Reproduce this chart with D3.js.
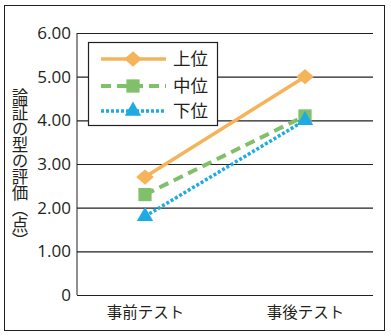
<!DOCTYPE html>
<html><head><meta charset="utf-8">
<script src="https://cdn.jsdelivr.net/npm/d3@7"></script>
<style>body{margin:0;background:#fff}svg{display:block}text{font-family:"Noto Sans CJK JP","Noto Sans",sans-serif;fill:#231f20}</style>
</head><body><svg id="c" width="391" height="336"></svg>
<script>
const categories = ["事前テスト", "事後テスト"];
const seriesNames = ["上位", "中位", "下位"];
const upper = [2.7, 5.0];
const middle = [2.3, 4.1];
const lower = [1.8, 4.0];
const yTicks = [0, 1, 2, 3, 4, 5, 6];
const yTitle = "論証の型の評価（点）";

const series = [
  {name: seriesNames[0], values: upper, color: "#F5B35A", dash: null, width: 3.5, symbol: d3.symbolDiamond2, size: 150, sx: 1.15},
  {name: seriesNames[1], values: middle, color: "#80C06B", dash: "10,6", width: 4, symbol: d3.symbolSquare, size: 175, sx: 1},
  {name: seriesNames[2], values: lower, color: "#1EAAE2", dash: "3,2", width: 3.5, symbol: d3.symbolTriangle, size: 115, sx: 1}
];

const svg = d3.select("#c");
svg.append("rect").attr("x", 4.5).attr("y", 5.5).attr("width", 380).attr("height", 325)
  .attr("fill", "none").attr("stroke", "#231f20").attr("stroke-width", 1);

const L = 77, R = 373, T = 33, B = 295;
const x = d3.scalePoint().domain(categories).range([L, R]).padding(0.425);
const y = d3.scaleLinear().domain([0, 6]).range([B, T]);

// grid + y axis
const yAxis = d3.axisLeft(y).tickValues(yTicks).tickSize(-(R - L)).tickPadding(6)
  .tickFormat(d => d === 0 ? "0" : d3.format(".2f")(d));
const ga = svg.append("g").attr("transform", `translate(${L},0)`).call(yAxis);
ga.select(".domain").attr("stroke", "#231f20").attr("d", `M0,${T}V${B}`);
ga.selectAll(".tick line").attr("stroke", "#231f20").attr("stroke-width", 1.2);
ga.selectAll(".tick text").attr("font-size", 17).attr("fill", "#231f20")
  .style("font-family", "'Open Sans','Noto Sans',sans-serif");

// x axis labels
const xAxis = d3.axisBottom(x).tickSize(0).tickPadding(12);
const gx = svg.append("g").attr("transform", `translate(0,${B})`).call(xAxis);
gx.select(".domain").remove();
gx.selectAll(".tick text").attr("font-size", 15.5).attr("fill", "#231f20");

// y title vertical
svg.append("text").attr("x", 20).attr("y", 88)
  .style("writing-mode", "vertical-rl").style("text-orientation", "mixed")
  .attr("font-size", 16.5).attr("letter-spacing", -0.5).text(yTitle);

// lines
const line = d3.line().x((d, i) => x(categories[i])).y(d => y(d));
series.forEach(s => {
  svg.append("path").datum(s.values).attr("d", line).attr("fill", "none")
    .attr("stroke", s.color).attr("stroke-width", s.width)
    .attr("stroke-dasharray", s.dash);
});
series.forEach(s => {
  svg.selectAll(null).data(s.values).enter().append("path")
    .attr("d", d3.symbol().type(s.symbol).size(s.size))
    .attr("transform", (d, i) => `translate(${x(categories[i])},${y(d)}) scale(${s.sx},1)`)
    .attr("fill", s.color);
});

// legend
const lg = svg.append("g");
lg.append("rect").attr("x", 88.5).attr("y", 42.5).attr("width", 129).attr("height", 83)
  .attr("fill", "#fff").attr("stroke", "#231f20").attr("stroke-width", 1.2);
const rowsY = [59, 86, 111];
series.forEach((s, i) => {
  const ry = rowsY[i];
  lg.append("line").attr("x1", 101).attr("x2", 166).attr("y1", ry).attr("y2", ry)
    .attr("stroke", s.color).attr("stroke-width", s.width).attr("stroke-dasharray", s.dash);
  lg.append("path").attr("d", d3.symbol().type(s.symbol).size(s.size))
    .attr("transform", `translate(133,${ry}) scale(${s.sx},1)`).attr("fill", s.color);
  lg.append("text").attr("x", 173).attr("y", ry).attr("dy", "0.36em")
    .attr("font-size", 17.5).text(s.name);
});
</script></body></html>
